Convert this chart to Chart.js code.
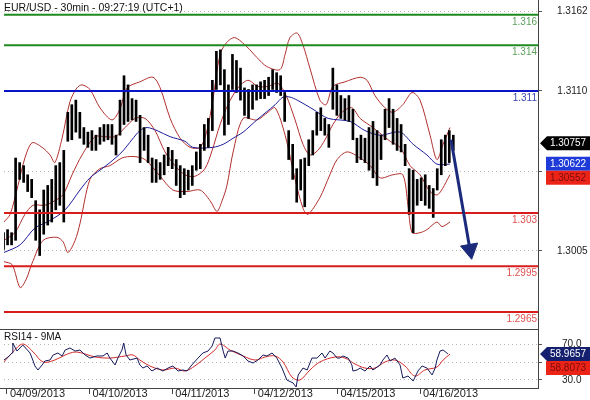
<!DOCTYPE html>
<html><head><meta charset="utf-8">
<script src="https://cdn.jsdelivr.net/npm/chart.js@4.4.1/dist/chart.umd.min.js"></script>
<style>
html,body{margin:0;padding:0;background:#fff;width:590px;height:400px;overflow:hidden}
#main{position:absolute;left:0;top:0}
#rsi{position:absolute;left:0;top:329px}
</style></head><body>
<canvas id="main" width="590" height="329"></canvas>
<canvas id="rsi" width="590" height="71"></canvas>
<script>
// ---------------- DATA ----------------
const chartTitle = 'EUR/USD - 30min - 09:27:19 (UTC+1)';
const rsiTitle = 'RSI14 - 9MA';
const dateLabels = ['04/09/2013','04/10/2013','04/11/2013','04/12/2013','04/15/2013','04/16/2013'];
const dateTickHours = [0,24,48,72,96,120];
const priceTicks = [1.3162,1.3110,1.3057,1.3005];
const priceTickLabels = ['1.3162','1.3110','','1.3005'];
const rsiTicks = [30,50,70];
const rsiTickLabels = ['30.0','','70.0'];

// bar samples (hours since 04/09 00:00, trading time)
const barStartHour = -1, barStepHours = 7/6;
const highs = [1.3017,1.3019,1.3017,1.3066,1.3063,1.3061,1.3055,1.3052,1.3038,1.3032,
1.3045,1.3048,1.3052,1.3061,1.3063,1.3071,1.3096,1.3101,1.3104,1.3096,
1.3086,1.3083,1.3084,1.3081,1.3086,1.3088,1.3088,1.3088,1.3081,1.3104,
1.3120,1.3114,1.3105,1.3104,1.3094,1.3086,1.3081,1.3066,1.3065,1.3063,
1.3068,1.3073,1.3071,1.3065,1.3061,1.3059,1.3058,1.3061,1.3070,1.3075,
1.3088,1.3092,1.3117,1.3136,1.3137,1.3124,1.3114,1.3134,1.3130,1.3125,
1.3112,1.3111,1.3114,1.3114,1.3116,1.3117,1.3119,1.3124,1.3122,1.3120,
1.3109,1.3084,1.3075,1.3059,1.3065,1.3066,1.3078,1.3084,1.3096,1.3099,
1.3092,1.3088,1.3125,1.3114,1.3107,1.3105,1.3107,1.3098,1.3079,1.3081,
1.3079,1.3086,1.3090,1.3084,1.3081,1.3098,1.3105,1.3098,1.3092,1.3088,
1.3075,1.3059,1.3058,1.3052,1.3053,1.3055,1.3048,1.3046,1.3059,1.3078,
1.3081,1.3084,1.3081];
const lows = [1.3006,1.3009,1.3009,1.3012,1.3052,1.3050,1.3044,1.3040,1.3012,1.3002,
1.3016,1.3022,1.3024,1.3032,1.3035,1.3024,1.3077,1.3078,1.3083,1.3079,
1.3075,1.3073,1.3071,1.3071,1.3075,1.3077,1.3078,1.3075,1.3068,1.3081,
1.3088,1.3090,1.3091,1.3090,1.3063,1.3071,1.3063,1.3050,1.3050,1.3052,
1.3055,1.3061,1.3059,1.3048,1.3040,1.3042,1.3045,1.3048,1.3058,1.3059,
1.3071,1.3073,1.3084,1.3111,1.3114,1.3081,1.3088,1.3111,1.3109,1.3104,
1.3094,1.3092,1.3098,1.3104,1.3105,1.3105,1.3107,1.3111,1.3109,1.3107,
1.3090,1.3065,1.3052,1.3037,1.3045,1.3034,1.3061,1.3068,1.3081,1.3084,
1.3081,1.3073,1.3098,1.3094,1.3092,1.3091,1.3090,1.3078,1.3063,1.3065,
1.3063,1.3058,1.3053,1.3048,1.3065,1.3078,1.3086,1.3075,1.3071,1.3070,
1.3061,1.3029,1.3017,1.3035,1.3038,1.3035,1.3033,1.3027,1.3045,1.3055,
1.3061,1.3063,1.3071];

const upperT = [-0.9,0.9,3.2,5.2,7.3,10.2,12.5,13.9,16.0,18.3,20.3,21.8,24.1,27.0,30.5,32.8,34.9,38.6,42.4,44.5,47.4,50.3,53.2,56.1,58.1,59.8,61.9,63.9,66.2,69.7,72.6,75.5,79.3,80.8,82.2,84.3,86.0,88.0,90.9,92.7,94.7,98.2,102.6,104.6,106.9,109.8,112.1,115.0,117.7,120.0,122.9,124.9,126.7,128.7];
const upperV = [1.3024,1.3029,1.3048,1.3066,1.3076,1.3073,1.3068,1.3063,1.3079,1.3103,1.3112,1.3114,1.3111,1.3099,1.3091,1.3098,1.3112,1.3116,1.3119,1.3112,1.3092,1.3079,1.3073,1.3073,1.3084,1.3104,1.3134,1.3142,1.3145,1.3139,1.3132,1.3126,1.3124,1.3134,1.3145,1.3148,1.3140,1.3125,1.3104,1.3101,1.3113,1.3116,1.3119,1.3117,1.3107,1.3099,1.3096,1.3101,1.3109,1.3104,1.3081,1.3065,1.3075,1.3086];
const midT = [-0.9,2.3,5.2,7.6,11.0,13.9,16.3,18.9,21.8,25.6,28.5,31.4,34.3,37.2,40.1,43.0,45.9,48.8,51.7,54.6,57.5,59.6,61.9,64.2,67.1,70.0,72.9,75.8,78.7,81.1,83.7,86.0,88.0,90.3,92.4,94.7,97.3,100.2,102.6,106.3,111.3,114.2,117.1,120.0,122.9,125.2,128.7];
const midV = [1.3012,1.3017,1.3029,1.3035,1.3035,1.3038,1.3042,1.3055,1.3068,1.3080,1.3080,1.3080,1.3086,1.3092,1.3092,1.3084,1.3070,1.3061,1.3055,1.3054,1.3059,1.3071,1.3088,1.3101,1.3112,1.3117,1.3113,1.3113,1.3115,1.3107,1.3091,1.3075,1.3068,1.3071,1.3078,1.3088,1.3096,1.3099,1.3092,1.3086,1.3077,1.3073,1.3061,1.3055,1.3044,1.3042,1.3055];
const lowerT = [-0.9,1.5,3.8,5.5,7.3,10.5,14.5,16.3,17.7,19.8,21.2,24.1,27.0,29.9,33.4,36.6,40.1,44.5,48.2,52.3,56.1,59.0,61.0,62.5,63.9,65.7,68.6,72.6,75.8,77.9,80.8,83.7,86.0,87.4,90.9,93.8,95.9,98.8,102.6,105.5,108.4,112.1,115.0,116.5,117.7,120.0,122.0,124.9,126.4,128.7];
const lowerV = [1.2998,1.2996,1.2981,1.2986,1.2997,1.3012,1.3014,1.3011,1.3004,1.3012,1.3023,1.3052,1.3059,1.3061,1.3066,1.3067,1.3065,1.3054,1.3045,1.3044,1.3045,1.3038,1.3031,1.3038,1.3048,1.3070,1.3092,1.3091,1.3096,1.3099,1.3081,1.3052,1.3033,1.3029,1.3040,1.3055,1.3065,1.3070,1.3066,1.3061,1.3053,1.3055,1.3055,1.3035,1.3017,1.3017,1.3019,1.3024,1.3021,1.3024];
const maT = [-0.9,3.8,8.1,12.5,16.9,21.2,24.1,27.0,29.9,33.4,36.3,38.6,40.7,43.6,47.4,51.7,54.0,59.8,62.8,65.7,68.6,72.6,77.9,80.2,82.2,84.3,88.9,93.3,99.7,104.0,108.4,114.2,118.0,122.0,124.9,128.7];
const maV = [1.3004,1.3009,1.3020,1.3025,1.3032,1.3045,1.3053,1.3058,1.3063,1.3070,1.3078,1.3084,1.3086,1.3084,1.3080,1.3077,1.3073,1.3073,1.3075,1.3079,1.3083,1.3091,1.3101,1.3106,1.3106,1.3104,1.3098,1.3092,1.3090,1.3084,1.3081,1.3083,1.3075,1.3068,1.3062,1.3062];

const levels = [1.316,1.314,1.311,1.303,1.2995,1.2965];
const levelLabels = ['1.316','1.314','1.311','1.303','1.2995','1.2965'];
const arrowT = [129.0,134.5];
const arrowV = [1.3078,1.3006];

const lastPrice = 1.30757, maLast = 1.30622, bandMidLast = 1.30552;

const rsiT = [-0.9,0.3,1.5,1.7,2.9,4.6,6.7,7.6,8.1,9.0,10.2,11.0,12.5,13.4,14.8,16.0,16.9,18.3,19.8,21.2,22.7,24.1,26.1,27.9,29.1,29.9,31.4,32.2,33.4,33.9,34.6,35.7,37.8,38.6,39.5,40.7,42.1,43.6,45.3,46.8,48.2,49.7,51.1,52.3,53.7,55.5,56.9,58.4,59.6,60.4,61.9,62.8,63.4,64.2,65.7,67.1,68.6,70.0,71.5,72.9,74.4,75.5,77.0,78.4,79.9,81.3,83.1,84.0,84.6,86.0,87.2,88.6,90.1,91.5,92.4,93.8,94.7,95.9,96.7,97.6,99.1,100.2,100.5,101.7,102.6,104.0,105.5,106.3,108.4,109.2,110.4,111.3,112.7,114.2,115.0,116.5,118.0,119.4,120.6,122.0,123.5,124.4,124.9,125.8,126.7,127.8,128.1];
const rsiV = [52.2,55.6,60.0,71.1,62.2,68.9,60.0,51.1,45.6,41.1,46.7,51.1,52.2,57.8,60.0,56.7,63.3,65.6,62.2,63.3,57.8,54.4,56.7,56.7,60.0,54.4,46.7,54.4,63.3,71.1,57.8,52.2,54.4,46.7,43.3,45.6,40.0,43.3,40.0,43.3,45.6,40.0,41.1,40.0,46.7,54.4,60.0,62.2,67.8,76.7,76.7,62.2,54.4,62.2,62.2,60.0,56.7,51.1,48.9,52.2,57.8,56.7,60.0,54.4,43.3,30.0,26.7,22.2,35.6,43.3,41.1,54.4,54.4,60.0,54.4,62.2,60.0,54.4,54.4,56.7,54.4,46.7,40.0,41.1,43.3,40.0,45.6,41.1,46.7,52.2,57.8,51.1,54.4,46.7,32.2,34.4,28.9,40.0,45.6,43.3,35.6,43.3,52.2,62.2,63.3,60.0,59.0];
const rsiMaT = [-0.9,1.7,4.6,7.6,10.5,13.9,16.9,19.8,22.7,25.6,29.9,34.3,36.6,38.6,41.5,45.3,48.8,51.7,54.6,57.5,60.4,61.9,64.8,68.6,72.1,75.0,77.9,80.2,82.8,85.1,88.0,90.9,95.3,98.2,101.1,104.0,106.9,109.8,112.7,115.6,118.5,121.4,124.9,126.7,128.7];
const rsiMaV = [50.0,61.1,70.0,61.1,50.0,52.2,57.8,61.1,58.9,55.6,54.4,56.7,57.8,52.2,45.6,41.1,43.3,40.0,45.6,54.4,63.3,70.0,63.3,56.7,52.2,55.6,56.7,50.0,33.3,30.0,41.1,50.0,55.6,54.4,47.8,43.3,43.3,50.0,52.2,45.6,34.4,41.1,44.4,52.2,58.8];
const rsiLast = 58.9657, rsiMaLast = 58.8073;

// ---------------- STYLE ----------------
const FONT = "'Liberation Sans', Arial, sans-serif";
Chart.defaults.font.family = FONT;
Chart.defaults.font.size = 10;
Chart.defaults.color = '#222';
const X_MIN = -0.87, X_MAX = 154.27;
const Y_MIN = 1.29538, Y_MAX = 1.31697;
const R_MIN = 21.1, R_MAX = 86.7;
const LEVEL_LINE = ['#1f8a1f','#1f8a1f','#0a14c8','#d81c1c','#d81c1c','#d81c1c'];
const LEVEL_TEXT = ['#5a9e5a','#5a9e5a','#3848b0','#e05050','#e05050','#e05050'];
const BAND = '#b0302c', MA = '#1c1c9a', ARROW = '#1b2a7a';

const pts = (ts, vs) => ts.map((t, i) => ({x: t, y: vs[i]}));
const barTimes = highs.map((_, i) => barStartHour + i * barStepHours);
const lineDs = (data, color, width, order, tension) => ({type:'line', data, borderColor: color, borderWidth: width,
  pointRadius: 0, tension: tension, fill: false, order});

function drawBoxes(ctx, scale, items) {
  let prevBottom = -Infinity;
  const left = scale.left, h = 14;
  items.forEach(it => {
    let cy = scale.getPixelForValue(it.value);
    if (cy - h / 2 < prevBottom) cy = prevBottom + h / 2;
    const top = cy - h / 2;
    ctx.fillStyle = it.bg;
    ctx.beginPath();
    if (it.arrow) {
      ctx.moveTo(left + 2, cy); ctx.lineTo(left + 9, top); ctx.lineTo(590, top);
      ctx.lineTo(590, top + h); ctx.lineTo(left + 9, top + h); ctx.closePath();
    } else {
      ctx.rect(left + 8, top, 52, h);
    }
    ctx.fill();
    ctx.fillStyle = it.fg;
    ctx.font = '10px ' + FONT;
    ctx.textAlign = 'center'; ctx.textBaseline = 'middle';
    ctx.fillText(it.text, 568, cy + 0.5);
    prevBottom = top + h;
  });
}

const mainOverlay = {
  id: 'mainOverlay',
  afterDatasetsDraw(chart) {
    const {ctx, chartArea, scales: {y}} = chart;
    ctx.save();
    ctx.font = '10px ' + FONT;
    ctx.textAlign = 'right'; ctx.textBaseline = 'middle';
    levels.forEach((lv, i) => {
      ctx.fillStyle = LEVEL_TEXT[i];
      ctx.fillText(levelLabels[i], chartArea.right - 1, y.getPixelForValue(lv) + 7);
    });
    ctx.textAlign = 'left';
    ctx.fillStyle = '#111';
    ctx.font = '10.5px ' + FONT;
    ctx.fillText(chartTitle, chartArea.left, 8);
    ctx.restore();
  },
  afterDraw(chart) {
    const {ctx, scales: {y}} = chart;
    ctx.save();
    drawBoxes(ctx, y, [
      {value: lastPrice, text: lastPrice.toFixed(5), bg: '#000', fg: '#fff', arrow: true},
      {value: maLast, text: maLast.toFixed(5), bg: '#1e3ad8', fg: '#fff'},
      {value: bandMidLast, text: bandMidLast.toFixed(5), bg: '#ec2418', fg: '#7a0c0c'}
    ]);
    ctx.restore();
  }
};

const rsiOverlay = {
  id: 'rsiOverlay',
  afterDraw(chart) {
    const {ctx, chartArea, scales: {y}} = chart;
    ctx.save();
    ctx.strokeStyle = '#444'; ctx.lineWidth = 1;
    ctx.beginPath();
    ctx.moveTo(0, chartArea.top + 0.5); ctx.lineTo(chartArea.right, chartArea.top + 0.5);
    ctx.moveTo(0, chartArea.bottom + 0.5); ctx.lineTo(chartArea.right, chartArea.bottom + 0.5);
    ctx.stroke();
    ctx.fillStyle = '#111';
    ctx.font = '10px ' + FONT;
    ctx.textAlign = 'left'; ctx.textBaseline = 'middle';
    ctx.fillText(rsiTitle, chartArea.left, chartArea.top + 8);
    drawBoxes(ctx, y, [
      {value: rsiLast, text: rsiLast.toFixed(4), bg: '#14206e', fg: '#fff', arrow: true},
      {value: rsiMaLast, text: rsiMaLast.toFixed(4), bg: '#ec2418', fg: '#7a0c0c'}
    ]);
    ctx.restore();
  }
};

const levelDatasets = levels.map((lv, i) => ({type:'line', data:[{x:X_MIN, y:lv},{x:X_MAX, y:lv}],
  borderColor: LEVEL_LINE[i], borderWidth: 2, pointRadius: 0, order: 2}));

new Chart(document.getElementById('main'), {
  type: 'bar',
  data: { datasets: [
    {type:'bar', data: barTimes.map((t, i) => ({x: t, y: [lows[i], highs[i]]})),
      backgroundColor: '#000', borderWidth: 0, barThickness: 2, order: 3},
    lineDs(pts(upperT, upperV), BAND, 1, 5, 0.3),
    lineDs(pts(midT, midV), BAND, 1, 5, 0.3),
    lineDs(pts(lowerT, lowerV), BAND, 1, 5, 0.3),
    lineDs(pts(maT, maV), MA, 1, 4, 0.3),
    ...levelDatasets,
    {type:'line', data: pts(arrowT, arrowV), borderColor: ARROW, borderWidth: 3,
      pointRadius: [0, 10], pointStyle: 'triangle', pointRotation: 170,
      pointBackgroundColor: ARROW, pointBorderColor: ARROW, pointBorderWidth: 1, order: 1}
  ]},
  options: {
    responsive: false, animation: false, events: [],
    layout: {padding: {left: 4, top: 0, right: 0, bottom: 0}, autoPadding: false},
    plugins: {legend: {display: false}, tooltip: {enabled: false}},
    scales: {
      x: {type: 'linear', min: X_MIN, max: X_MAX, display: false, offset: false, grid: {offset: false}},
      y: {type: 'linear', position: 'right', min: Y_MIN, max: Y_MAX, beginAtZero: false,
        afterBuildTicks: s => { s.ticks = priceTicks.map(v => ({value: v})); },
        afterFit: s => { s.width = 52; s.paddingTop = 0; s.paddingBottom = 0; },
        ticks: {callback: (v, i) => priceTickLabels[i], crossAlign: 'center', padding: 15, color: '#222', autoSkip: false},
        grid: {color: '#b4b4b4', tickColor: '#555', tickLength: 4, drawOnChartArea: true},
        border: {display: true, color: '#444', dash: [1, 3]}}
    }
  },
  plugins: [mainOverlay]
});

new Chart(document.getElementById('rsi'), {
  type: 'line',
  data: { datasets: [
    {data: pts(rsiMaT, rsiMaV), borderColor: '#d42a2a', borderWidth: 1, pointRadius: 0, tension: 0.35, order: 2},
    {data: pts(rsiT, rsiV), borderColor: '#141a5c', borderWidth: 1, pointRadius: 0, tension: 0, order: 1}
  ]},
  options: {
    responsive: false, animation: false, events: [],
    layout: {padding: {left: 4, top: 0, right: 0, bottom: 0}, autoPadding: false},
    plugins: {legend: {display: false}, tooltip: {enabled: false}},
    scales: {
      x: {type: 'linear', min: X_MIN, max: X_MAX, position: 'bottom',
        afterBuildTicks: s => { s.ticks = dateTickHours.map(v => ({value: v})); },
        afterFit: s => { s.height = 12; s.paddingLeft = 0; s.paddingRight = 0; },
        ticks: {callback: (v, i) => dateLabels[i], align: 'start', labelOffset: 3, padding: -7,
          maxRotation: 0, minRotation: 0, autoSkip: false, font: {size: 11}, color: '#222'},
        grid: {drawOnChartArea: false, drawTicks: true, tickLength: 6, tickColor: '#444'},
        border: {display: false}},
      y: {type: 'linear', position: 'right', min: R_MIN, max: R_MAX,
        afterBuildTicks: s => { s.ticks = rsiTicks.map(v => ({value: v})); },
        afterFit: s => { s.width = 52; s.paddingTop = 0; s.paddingBottom = 0; },
        ticks: {callback: (v, i) => rsiTickLabels[i], crossAlign: 'center', padding: 20, color: '#222', autoSkip: false},
        grid: {color: '#b4b4b4', tickColor: '#555', tickLength: 4, drawOnChartArea: true},
        border: {display: true, color: '#444', dash: [1, 3]}}
    }
  },
  plugins: [rsiOverlay]
});
</script></body></html>
